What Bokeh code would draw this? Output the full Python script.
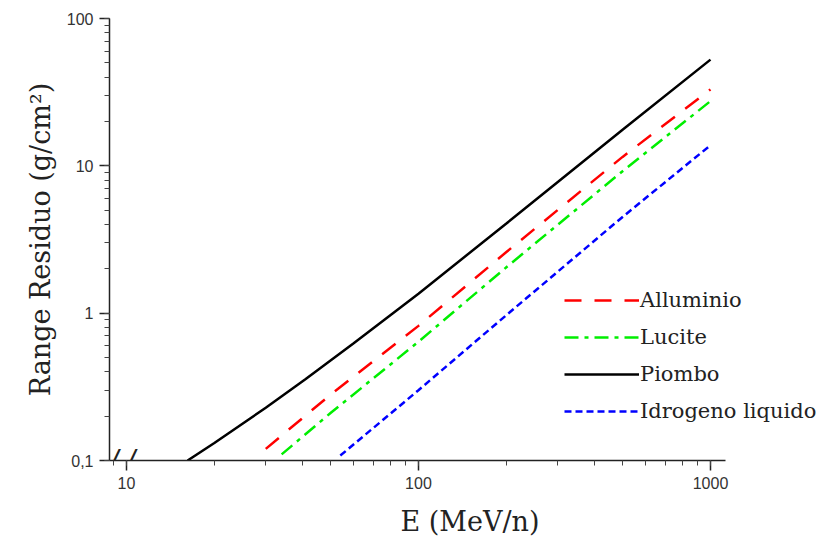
from bokeh.plotting import figure
from bokeh.models import Legend, LegendItem, Label, CustomJSTickFormatter, Range1d, LogTicker
from bokeh.embed import file_html
from bokeh.resources import INLINE

# ---- data ----
energy_alluminio = [30, 50, 100, 200, 500, 1000]
range_alluminio = [0.12, 0.28, 0.82, 2.6, 11.5, 33]

energy_lucite = [34, 50, 100, 200, 500, 1000]
range_lucite = [0.11, 0.21, 0.64, 2.05, 9.2, 27.5]

energy_piombo = [16.2, 20, 30, 41, 60, 100, 200, 300, 500, 1000]
range_piombo = [0.1, 0.1315, 0.228, 0.356, 0.624, 1.356, 4.06, 7.77, 17.6, 52.6]

energy_idrogeno = [54, 100, 200, 500, 1000]
range_idrogeno = [0.108, 0.3, 0.97, 4.5, 13.8]

series_labels = ["Alluminio", "Lucite", "Piombo", "Idrogeno liquido"]

SERIF = "DejaVu Serif"
SANS = "Liberation Sans"

p = figure(width=830, height=540, x_axis_type="log", y_axis_type="log",
           x_range=Range1d(8.75, 2576), y_range=Range1d(0.1, 100),
           output_backend="svg", toolbar_location=None,
           min_border_left=109, min_border_right=0,
           min_border_top=18, min_border_bottom=80)
p.outline_line_color = None
p.grid.visible = False
p.background_fill_color = "white"

r_al = p.line(energy_alluminio, range_alluminio, line_color="#ff0000", line_width=2.5, line_dash="17 13")
r_lu = p.line(energy_lucite, range_lucite, line_color="#00ee00", line_width=2.5, line_dash="14 6 4 6")
r_pb = p.line(energy_piombo, range_piombo, line_color="black", line_width=2.5)
r_h = p.line(energy_idrogeno, range_idrogeno, line_color="#0000ff", line_width=2.5, line_dash="7 4")

for ax in (p.xaxis[0], p.yaxis[0]):
    ax.axis_line_width = 1.5
    ax.axis_line_color = "#222222"
    ax.major_tick_line_color = "#222222"
    ax.minor_tick_line_color = "#444444"
    ax.major_tick_line_width = 1.5
    ax.major_tick_out = 10
    ax.major_tick_in = 0
    ax.minor_tick_out = 5
    ax.minor_tick_in = 0
    ax.major_label_text_font = SANS
    ax.major_label_text_font_size = "16px"
    ax.major_label_text_color = "#333333"
    ax.axis_label_text_font = SERIF
    ax.axis_label_text_font_style = "normal"
    ax.axis_label_text_font_size = "27px"
    ax.axis_label_text_color = "#222222"

p.xaxis.bounds = (8.75, 1126)
p.xaxis.ticker = LogTicker(num_minor_ticks=10)
p.yaxis.ticker = LogTicker(num_minor_ticks=10)
p.xaxis.major_label_standoff = 6
p.yaxis.major_label_standoff = 6
p.xaxis.axis_label = "E (MeV/n)"
p.yaxis.axis_label = "Range Residuo (g/cm\u00b2)"
p.xaxis.axis_label_standoff = 14
p.yaxis.axis_label_standoff = 8

p.yaxis.formatter = CustomJSTickFormatter(code="""
    if (tick < 0.5) { return '0,1'; }
    return Math.round(tick).toString();
""")
p.xaxis.formatter = CustomJSTickFormatter(code="return Math.round(tick).toString();")

# axis break mark
brk = Label(x=9.7, y=0.1, text="/ /", text_font=SANS, text_font_size="30px",
            text_font_style="italic",
            text_align="center", text_baseline="middle", text_color="#222222")
p.add_layout(brk)

legend = Legend(items=[
    LegendItem(label=series_labels[0], renderers=[r_al]),
    LegendItem(label=series_labels[1], renderers=[r_lu]),
    LegendItem(label=series_labels[2], renderers=[r_pb]),
    LegendItem(label=series_labels[3], renderers=[r_h]),
], location=(455, 37))
legend.glyph_width = 75
legend.glyph_height = 20
legend.label_height = 20
legend.label_standoff = 1
legend.spacing = 13
legend.padding = 0
legend.margin = 0
legend.border_line_alpha = 0
legend.background_fill_alpha = 0
legend.label_text_font = SERIF
legend.label_text_font_size = "21px"
legend.label_text_color = "#222222"
p.add_layout(legend, "center")

open("out.html", "w").write(file_html(p, INLINE))
